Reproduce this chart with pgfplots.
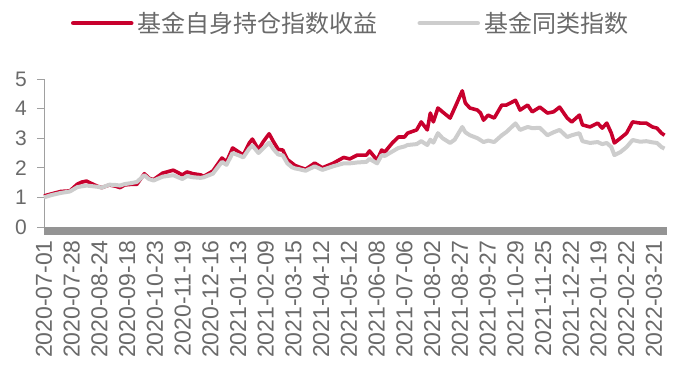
\documentclass[border=0pt]{standalone}
\usepackage{pgfplots}
\pgfplotsset{compat=1.18}
\usepackage{fontspec}
\setmainfont{Liberation Sans}
\newfontfamily\cjk{Noto Sans CJK SC}
\definecolor{redline}{HTML}{C8002D}
\definecolor{greyline}{HTML}{CDCDCD}
\definecolor{txt}{HTML}{6A6A6A}
\definecolor{axcol}{HTML}{A0A0A0}

\begin{document}
\begin{tikzpicture}
\begin{axis}[
  name=ax,
  at={(44pt,148pt)}, anchor=south west,
  scale only axis, width=623pt, height=148pt,
  xmin=0, xmax=409.6, ymin=0, ymax=5,
  clip=false,
  axis lines*=left,
  x axis line style={draw=none},
  y axis line style={draw=axcol, line width=0.9pt},
  xtick={0,18.23,36.46,54.69,72.92,91.15,109.38,127.61,145.84,164.07,182.3,200.53,218.76,236.99,255.22,273.45,291.68,309.91,328.14,346.37,364.6,382.83,401.06},
  xticklabels={2020-07-01,2020-07-28,2020-08-24,2020-09-18,2020-10-23,2020-11-19,2020-12-16,2021-01-13,2021-02-09,2021-03-15,2021-04-12,2021-05-12,2021-06-08,2021-07-06,2021-08-02,2021-08-27,2021-09-27,2021-10-29,2021-11-25,2021-12-22,2022-01-19,2022-02-22,2022-03-21},
  xtick style={draw=none},
  ytick={0,1,2,3,4,5},
  ytick style={draw=axcol, line width=0.9pt},
  tick align=outside,
  major tick length=7pt,
  /pgf/number format/assume math mode=true,
  xticklabel style={rotate=90, anchor=east, inner sep=0pt, xshift=-6pt, font=\fontsize{23}{23}\selectfont, text=txt},
  yticklabel style={inner sep=0pt, xshift=-10pt, font=\fontsize{21}{21}\selectfont, text=txt},
  legend style={at={(0.4936,1.378)}, anchor=center, draw=none, fill=none,
    legend columns=2, font=\cjk\fontsize{24}{24}\selectfont, text=txt,
    nodes={inner sep=4pt},
    /tikz/every even column/.append style={column sep=36pt}},
  legend image code/.code={\draw[#1, line width=4.5pt, line cap=round] (0pt,0pt) -- (58pt,0pt);},
]
\addplot[redline, line width=3.6pt, line join=round] coordinates {
(0,1.05)(5,1.12)(11,1.2)(17,1.22)(22,1.45)(25,1.52)(28,1.55)(32,1.45)(35,1.38)(38,1.33)
(43,1.42)(47,1.38)(50,1.33)(53,1.42)(57,1.44)(61,1.44)(66,1.8)(69,1.65)(72,1.6)(78,1.82)
(85,1.92)(91,1.76)(94,1.86)(98,1.8)(103,1.76)(105,1.71)(111,1.89)(117,2.33)(120,2.2)(124,2.67)
(129,2.5)(131,2.43)(135,2.84)(137,2.97)(141,2.62)(144,2.87)(148,3.15)(151,2.87)(154,2.62)(157,2.6)
(160,2.28)(163,2.16)(165,2.08)(168,2.02)(172,1.95)(178,2.16)(183,2.0)(190,2.15)(197,2.35)(201,2.3)
(206,2.43)(212,2.43)(214,2.57)(219,2.26)(222,2.6)(224,2.53)(229,2.84)(233,3.04)(237,3.04)(239,3.17)
(245,3.28)(248,3.55)(252,3.28)(254,3.85)(256,3.55)(259,4.02)(262,3.89)(267,3.68)(270,4.02)(275,4.6)
(277,4.19)(280,4.02)(285,3.95)(287,3.85)(289,3.61)(292,3.78)(296,3.68)(301,4.12)(304,4.12)(310,4.28)
(313,3.95)(318,4.12)(321,3.89)(326,4.05)(331,3.85)(335,3.89)(339,4.05)(344,3.68)(347,3.55)(352,3.78)
(354,3.45)(359,3.38)(364,3.51)(367,3.34)(370,3.51)(373,3.17)(375,2.84)(379,3.0)(383,3.17)(387,3.55)
(392,3.51)(396,3.51)(400,3.38)(403,3.34)(406,3.17)(408,3.1)
};
\addlegendentry{基金自身持仓指数收益}
\addplot[greyline, line width=4pt, line join=round] coordinates {
(0,1.0)(5,1.08)(11,1.15)(17,1.2)(22,1.35)(28,1.4)(35,1.36)(38,1.33)(43,1.43)(47,1.42)
(50,1.4)(53,1.45)(57,1.48)(61,1.52)(66,1.75)(69,1.62)(72,1.57)(78,1.7)(85,1.75)(91,1.62)
(94,1.72)(98,1.68)(103,1.66)(105,1.68)(111,1.8)(117,2.2)(120,2.1)(124,2.5)(129,2.4)(131,2.35)
(135,2.65)(137,2.75)(141,2.5)(144,2.65)(148,2.85)(151,2.62)(154,2.45)(157,2.42)(160,2.15)(163,2.02)
(165,1.98)(168,1.95)(172,1.9)(178,2.05)(183,1.93)(190,2.05)(197,2.15)(201,2.15)(206,2.18)(212,2.2)
(214,2.3)(219,2.15)(222,2.43)(224,2.4)(229,2.55)(233,2.67)(237,2.72)(239,2.77)(245,2.8)(248,2.9)
(252,2.77)(254,2.95)(256,2.85)(259,3.17)(262,3.0)(267,2.84)(270,2.95)(275,3.38)(277,3.2)(280,3.1)
(285,3.0)(289,2.87)(292,2.92)(296,2.87)(301,3.1)(304,3.21)(310,3.5)(313,3.28)(318,3.38)(321,3.34)
(326,3.35)(331,3.1)(335,3.2)(339,3.28)(344,3.04)(347,3.1)(352,3.17)(354,2.9)(359,2.84)(364,2.87)
(367,2.8)(370,2.84)(373,2.7)(375,2.43)(379,2.53)(383,2.7)(387,2.94)(392,2.88)(396,2.9)(400,2.86)
(403,2.84)(406,2.7)(408,2.65)
};
\addlegendentry{基金同类指数}
\end{axis}
\fill[black!42] (ax.south west) rectangle ([yshift=-8pt]ax.south east);
\path (0,0) rectangle (675pt,375pt);
\end{tikzpicture}
\end{document}
